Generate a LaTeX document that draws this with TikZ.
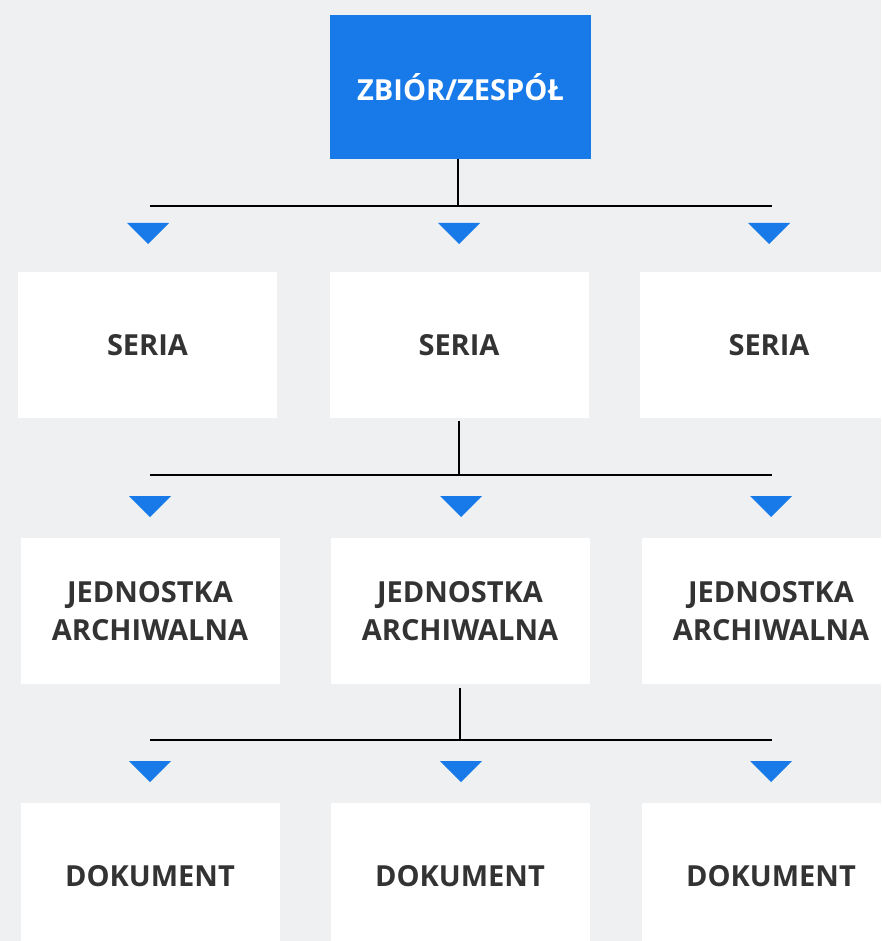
\documentclass[tikz,border=0pt]{standalone}
\usepackage{fontspec}
\setmainfont{Open Sans}
\usepackage{tikz}
\definecolor{Bgnd}{RGB}{239,240,242}
\definecolor{Zblue}{RGB}{24,122,232}
\definecolor{Ztxt}{RGB}{51,51,51}

\tikzset{
    unit/.style={fill=white, minimum width=259pt, minimum height=146pt,
                 inner sep=0pt, align=center, text=Ztxt,
                 font=\fontsize{29}{37.6}\selectfont\bfseries},
    topunit/.style={unit, fill=Zblue, text=white,
                 minimum width=261pt, minimum height=144pt},
    bus/.style={line width=2.6pt, black},
    marker/.style={fill=Zblue}
}

\begin{document}
\begin{tikzpicture}[x=1pt,y=-1pt]
    \fill[Bgnd] (0,0) rectangle (881,941);
    \useasboundingbox (0,0) rectangle (881,941);
    \clip (0,0) rectangle (881,941);

    % top level
    \node[topunit] (fonds) at (460.5,87) {ZBIÓR/ZESPÓŁ};

    % series
    \node[unit] (ser1) at (147.5,345) {SERIA};
    \node[unit] (ser2) at (459,345) {SERIA};
    \node[unit] (ser3) at (769,345) {SERIA};

    % archival units
    \node[unit] (unit1) at (150,611) {JEDNOSTKA\\ARCHIWALNA};
    \node[unit] (unit2) at (460,611) {JEDNOSTKA\\ARCHIWALNA};
    \node[unit] (unit3) at (771,611) {JEDNOSTKA\\ARCHIWALNA};

    % documents
    \node[unit] (doc1) at (150,876) {DOKUMENT};
    \node[unit] (doc2) at (460,876) {DOKUMENT};
    \node[unit] (doc3) at (771,876) {DOKUMENT};

    % buses
    \coordinate (busA) at (458,206);
    \coordinate (busB) at (459,475);
    \coordinate (busC) at (460,740);
    \draw[bus] (fonds.south -| busA) -- (busA);
    \draw[bus] (150,206) -- (busA) -- (772,206);
    \draw[bus, shorten <=3pt] (ser2.south -| busB) -- (busB);
    \draw[bus] (150,475) -- (busB) -- (772,475);
    \draw[bus, shorten <=4pt] (unit2.south -| busC) -- (busC);
    \draw[bus] (150,740) -- (busC) -- (772,740);

    % markers
    \foreach \x/\y in {148/223, 459/223, 769/223,
                       150/496, 461/496, 771/496,
                       150/761, 461/761, 771/761}
        \fill[marker] ({\x-21},\y) -- ({\x+21},\y) -- (\x,{\y+21}) -- cycle;
\end{tikzpicture}
\end{document}
